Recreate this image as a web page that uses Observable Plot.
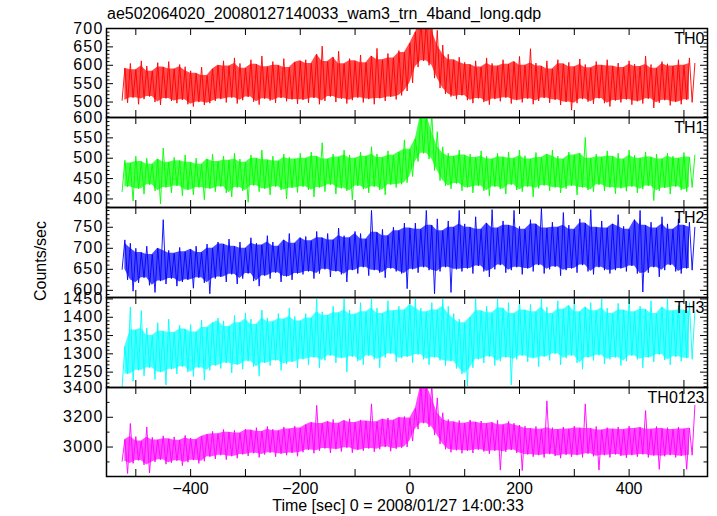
<!DOCTYPE html>
<html><head><meta charset="utf-8">
<script src="https://cdn.jsdelivr.net/npm/d3@7"></script>
<script src="https://cdn.jsdelivr.net/npm/@observablehq/plot@0.6"></script>
<style>
body{margin:0;background:#fff;font-family:"Liberation Sans",Arial,sans-serif;}
#chart{position:relative;width:717px;height:516px;overflow:hidden;background:#fff;}
#chart svg{position:absolute;left:0;overflow:visible;}
.t{position:absolute;font-size:16px;line-height:16px;color:#000;white-space:nowrap;font-family:"Liberation Sans",Arial,sans-serif;}
g[aria-label^="y-axis"] text{letter-spacing:1.2px;}
</style></head><body>
<div id="chart"></div>
<script>
// ---- data (per 10-s bin, low and high excursion) ----
const titleText = "ae502064020_20080127140033_wam3_trn_4band_long.qdp";
const xLabel = "Time [sec] 0 = 2008/01/27 14:00:33";
const yLabel = "Counts/sec";
const panelNames = ["TH0", "TH1", "TH2", "TH3", "TH0123"];
const panelColors = ["#ff0000", "#00ff00", "#0000ff", "#00ffff", "#ff00ff"];
const yDomains = [[458, 700], [379, 600], [583, 797], [1208, 1454], [2802, 3400]];
const yTickLabels = [[500, 550, 600, 650, 700], [400, 450, 500, 550, 600], [600, 650, 700, 750], [1250, 1300, 1350, 1400, 1450], [3000, 3200, 3400]];
const yMinorStep = [10, 10, 10, 10, 100];
const xDomain = [-553.5, 543];
const xTickLabels = [-400, -200, 0, 200, 400];
const xMajorTicks = [-500, -400, -300, -200, -100, 0, 100, 200, 300, 400, 500];
const binStart = d3.range(-525, 525, 10); // 105 bins of 10 s

const th0Lo = [505,498,512,494,508,515,500,492,510,503,497,506, 494,488,500,492,497,503, 508,499,512,496,505,514,501,493,509,504,498,511,502,507,495, 506,498,511,494,503,515,500,509,496,505,512,499,508,494,510,503,514,507,518, 530,552,595,612,600,565,538, 522,515,508,518, 505,497,510,500,493,508,502,512,496,505,499,509,494,503,511,498,506,492,500,478,497,508,501,495,510,497,488,504,499,507,493,502,496,509,484,498,505,491,500,494,506,499];
const th0Hi = [592,605,588,612,598,584,607,595,610,590,602,596, 585,578,595,572,590,600, 612,598,620,605,592,615,603,625,596,610,600,618,594,608,612, 615,605,630,652,610,622,638,604,618,612,628,607,625,646,615,632,620,640,635, 660,690,720,720,720,695,655, 630,615,622,608, 602,612,595,620,605,598,615,603,610,624,600,645,606,598,612,590,615,604,608,596,617,602,593,610,600,615,598,606,594,612,603,597,625,602,592,610,604,598,615,600,620,605];

const th1Lo = [418,430,395,425,412,435,420,388,428,415,432,408, 422,410,428,398,425,418, 430,415,405,428,420,392,433,418,425,410,430,422,400,427,416, 430,422,405,428,418,435,412,426,420,398,432,424,415,430,422,410,435,428,436, 440,455,492,512,498,470,445, 432,425,438,420, 428,415,432,420,408,430,424,412,435,422,418,430,405,426,433,420,428,415,425,432,410,428,422,418,435,420,428,413,426,419,430,415,424,432,396,420,427,412,430,422,418,428];
const th1Hi = [495,488,505,492,500,485,498,525,490,502,494,508, 490,500,485,498,510,492, 505,495,512,498,490,508,500,520,496,505,493,510,502,498,512, 500,515,505,538,498,510,503,520,508,500,515,505,528,510,502,518,507,515,545, 522,548,610,610,610,565,528, 512,505,520,508, 510,502,518,505,498,512,503,515,500,520,506,498,514,502,510,520,505,498,515,508,512,551,500,510,503,518,505,512,498,520,507,500,515,503,510,498,512,505,500,514,503,508];

const th2Lo = [650,625,598,618,630,612,595,622,615,628,610,620, 625,605,630,618,592,628, 632,620,638,615,628,640,622,610,635,628,642,620,633,625,640, 638,645,628,640,650,632,645,638,620,648,640,655,635,648,642,630,652,645,640, 604,650,642,655,648,592,645, 655,595,650,645, 652,640,658,645,632,650,660,642,648,655,638,652,645,660,640,650,656,635,648,652,642,660,645,638,655,648,640,648,652,645,658,640,596,642,655,632,648,660,645,640,652,648];
const th2Hi = [720,712,700,690,705,685,700,768,695,688,702,692, 698,705,690,710,700,715, 710,722,705,715,700,725,712,708,730,715,705,720,735,712,725, 728,718,740,725,735,720,748,730,725,740,735,722,790,738,745,730,750,742,760, 748,760,745,790,755,770,742, 765,750,790,758, 750,775,745,760,792,748,765,755,790,752,745,768,758,795,748,762,750,785,755,745,770,760,792,750,765,748,758,780,752,745,768,790,755,762,748,775,758,745,770,755,762,750];

const th3Lo = [1210,1245,1225,1255,1240,1262,1230,1250,1215,1258,1245,1265, 1250,1238,1262,1228,1255,1268, 1260,1275,1248,1270,1258,1280,1265,1240,1275,1268,1282,1255,1272,1278,1262, 1285,1270,1290,1262,1282,1295,1275,1288,1250,1292,1280,1270,1295,1285,1262,1290,1300,1278,1288, 1292,1275,1298,1285,1270,1290,1282, 1268,1280,1260,1245, 1212,1262,1285,1275,1292,1268,1280,1290,1215,1285,1295,1278,1288,1265,1292,1282,1300,1270,1288,1295,1275,1258,1290,1282,1296,1272,1285,1290,1268,1280,1295,1285,1262,1290,1278,1298,1283,1270,1292,1280,1288,1285];
const th3Hi = [1320,1428,1365,1418,1370,1350,1385,1362,1395,1358,1378,1368, 1380,1360,1392,1372,1385,1398, 1390,1375,1405,1385,1412,1395,1380,1420,1398,1388,1410,1395,1425,1402,1390, 1410,1398,1450,1415,1405,1430,1412,1450,1420,1408,1440,1415,1450,1425,1410,1445,1418,1430,1420, 1435,1450,1425,1415,1440,1420,1450, 1430,1410,1395,1385, 1400,1450,1418,1430,1412,1450,1425,1440,1410,1450,1420,1435,1415,1450,1428,1410,1445,1422,1432,1450,1415,1428,1440,1418,1450,1425,1410,1438,1420,1450,1415,1430,1422,1445,1410,1428,1450,1418,1432,1420,1440,1415];

const th0123Lo = [2905,2822,2890,2910,2880,2826,2900,2915,2885,2895,2908,2875,2898,2912,2890,2905, 2935,2920,2945,2915,2938,2925,2950, 2940,2958,2930,2950,2962,2935,2955,2945,2960,2938, 2965,2980,2958,2975,2990,2960,2985,2970,2995,2962,2980,2975,2990,2968,2985,3000,2972,2988,2995, 3000,3040,3120,3160,3135,3080,3020, 2985,2965,2978,2958,2975,2960,2982,2970,2955,2975,2845,2968,2980,2960, 2842,2950,2935,2945,2930,2952,2940,2925,2948,2935,2945,2930,2955,2938,2845,2945,2930,2950,2940,2928,2945,2935,2950,2930,2942,2850,2938,2945,2930,2940,2850,2945];
const th0123Hi = [3050,3158,3070,3040,3135,3065,3048,3075,3055,3068,3045,3078,3060,3050,3072,3085, 3105,3090,3118,3100,3112,3095,3120, 3115,3130,3105,3138,3120,3110,3135,3122,3140,3128, 3150,3165,3280,3158,3172,3185,3160,3178,3190,3165,3182,3175,3290,3170,3188,3195,3180,3198,3205, 3195,3260,3420,3420,3420,3330,3230, 3185,3170,3178,3160,3182,3168,3175,3158,3165,3180,3150,3172,3160,3148, 3140,3125,3138,3120,3310,3130,3118,3135,3122,3140,3128,3290,3125,3138,3115,3130,3122,3135,3118,3140,3125,3132,3245,3120,3138,3125,3130,3118,3135,3122,3128,3280];

const seriesLo = [th0Lo, th1Lo, th2Lo, th3Lo, th0123Lo];
const seriesHi = [th0Hi, th1Hi, th2Hi, th3Hi, th0123Hi];

// ---- layout ----
const W = 717, ML = 106, MR = 10;
const panelTops = [28, 117, 207, 297, 387];
const panelBottom = 476;
const fontFam = '"Liberation Sans", Arial, Helvetica, sans-serif';
const chart = document.getElementById("chart");
const ux = (xDomain[1] - xDomain[0]) / (W - ML - MR);
const fmt = d3.format("d");

function zigzag(lo, hi) {
  const pts = [];
  binStart.forEach((t, k) => { pts.push({t, v: lo[k]}); pts.push({t: t + 5, v: hi[k]}); });
  return pts;
}
// inner band: where successive excursions overlap (the densely covered core)
function core(lo, hi) {
  return binStart.slice(0, -1).map((t, k) => ({
    t: t + 5,
    lo: Math.max(lo[k], lo[k + 1]),
    hi: Math.min(hi[k], hi[k + 1])
  }));
}

panelNames.forEach((name, i) => {
  const top = panelTops[i];
  const h = (i < 4 ? panelTops[i + 1] : panelBottom) - top;
  const last = i === 4;
  const [y0, y1] = yDomains[i];
  const uy = (y1 - y0) / h;
  const step = yMinorStep[i];
  const minor = d3.range(Math.ceil(y0 / step) * step, y1 + 1e-9, step).filter(v => !yTickLabels[i].includes(v));
  const major = yTickLabels[i];
  const tickMarks = [
    Plot.ruleY(major, {y: d => d, x1: xDomain[0], x2: xDomain[0] + 7 * ux, stroke: "black", strokeWidth: 1}),
    Plot.ruleY(major, {y: d => d, x1: xDomain[1] - 7 * ux, x2: xDomain[1], stroke: "black", strokeWidth: 1}),
    Plot.ruleY(minor, {y: d => d, x1: xDomain[0], x2: xDomain[0] + 3.5 * ux, stroke: "black", strokeWidth: 1}),
    Plot.ruleY(minor, {y: d => d, x1: xDomain[1] - 3.5 * ux, x2: xDomain[1], stroke: "black", strokeWidth: 1}),
    Plot.ruleX(xMajorTicks, {x: d => d, y1: y0, y2: y0 + 7 * uy, stroke: "black", strokeWidth: 1}),
    Plot.ruleX(xMajorTicks, {x: d => d, y1: y1 - 7 * uy, y2: y1, stroke: "black", strokeWidth: 1})
  ];
  const svg = Plot.plot({
    width: W,
    height: h + (last ? 40 : 0),
    marginLeft: ML,
    marginRight: MR,
    marginTop: 0,
    marginBottom: last ? 40 : 0,
    style: {background: "transparent", overflow: "visible", fontSize: "16px", fontFamily: fontFam, color: "black"},
    x: last
      ? {domain: xDomain, ticks: xTickLabels, tickSize: 0, tickPadding: 6, tickFormat: fmt, label: null}
      : {domain: xDomain, axis: null},
    y: {domain: yDomains[i], ticks: yTickLabels[i], tickSize: 0, tickPadding: 3, tickFormat: fmt, label: null},
    marks: [
      Plot.areaY(core(seriesLo[i], seriesHi[i]), {x: "t", y1: "lo", y2: "hi", fill: panelColors[i], fillOpacity: 0.7, clip: true}),
      Plot.line(zigzag(seriesLo[i], seriesHi[i]), {x: "t", y: "v", stroke: panelColors[i], strokeWidth: 0.9, clip: true}),
      ...tickMarks,
      Plot.frame({stroke: "black", strokeWidth: 1.5}),
      Plot.text([name], {text: d => d, frameAnchor: "top-right", dx: -3, dy: 4, fontSize: 16, fill: "black"})
    ]
  });
  svg.style.top = top + "px";
  chart.appendChild(svg);
});

function addText(txt, css) {
  const d = document.createElement("div");
  d.className = "t";
  d.textContent = txt;
  Object.assign(d.style, css);
  chart.appendChild(d);
  return d;
}
addText(titleText, {left: "107px", top: "6px"});
addText(xLabel, {left: "398px", top: "498px", transform: "translateX(-50%)"});
addText(yLabel, {left: "41px", top: "261px", transform: "translate(-50%,-50%) rotate(-90deg)"});
</script>
</body></html>
